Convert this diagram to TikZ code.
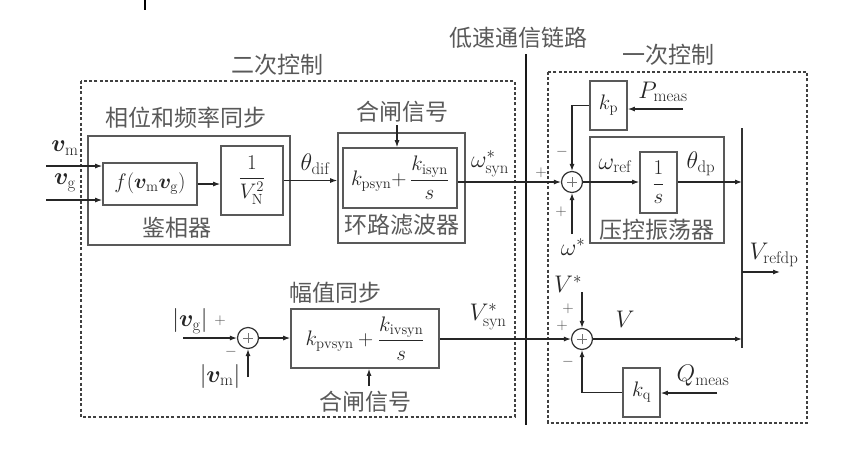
\RequirePackage{fix-cm}
\documentclass[tikz,border=0pt]{standalone}
\usepackage{amsmath,bm}
\usepackage{fontspec}
\newfontfamily\cjk{Noto Sans CJK SC}
\usetikzlibrary{arrows.meta,calc}
\begin{document}
\begin{tikzpicture}[x=1pt,y=-1pt,
  font=\fontsize{21pt}{25pt}\selectfont,
  ln/.style={line width=1.1pt, draw=black!85},
  arr/.style={ln,-{Latex[length=7pt,width=5pt]}},
  blk/.style={draw=black!65, line width=1.7pt, inner sep=0pt, text=black!85},
  frame/.style={draw=black!75, line width=1.2pt, dash pattern=on 3pt off 2.2pt},
  sumc/.style={circle, draw=black!80, line width=1.2pt, minimum size=21pt, inner sep=0pt,
    path picture={\draw[black!55,line width=0.8pt]
      ([xshift=-5pt]path picture bounding box.center) -- ([xshift=5pt]path picture bounding box.center)
      ([yshift=-5pt]path picture bounding box.center) -- ([yshift=5pt]path picture bounding box.center);}},
  lab/.style={inner sep=0pt, text=black!85, font=\fontsize{24pt}{28pt}\selectfont},
  sgn/.style={inner sep=0pt, text=black!70, font=\fontsize{15pt}{17pt}\selectfont},
  zhl/.style={inner sep=0pt, text=black!65, font=\fontsize{23pt}{27pt}\cjk},
]
\useasboundingbox (0,0) rectangle (856,448);
\fill[white] (0,0) rectangle (856,448);
\draw[line width=2pt] (145,0) -- (145,10);

% frames
\draw[frame] (81,81) rectangle (515,417);
\node[zhl] (lbl2) at (277,65) {二次控制};
\draw[frame] (548,72) rectangle (807,423);
\node[zhl] (lbl1) at (668,55) {一次控制};
\coordinate (linkT) at (526,54);
\coordinate (linkB) at (526,425);
\draw[line width=2.6pt, black!90] (linkT) -- (linkB);
\node[zhl] (lbllink) at (518,38) {低速通信链路};

% phase and frequency sync
\node[blk, minimum width=202pt, minimum height=109pt] (PS) at (189,190.5) {};
\node[zhl] (lblps) at (186,118) {相位和频率同步};
\node[blk, minimum width=94pt, minimum height=42pt] (F) at (150,184) {$f(\bm{v}_{\mathrm{m}}\bm{v}_{\mathrm{g}})$};
\node[blk, minimum width=62pt, minimum height=69pt] (INV) at (252,180.5) {$\dfrac{1}{V_{\mathrm{N}}^{2}}$};
\node[zhl] (lblpd) at (177,228) {鉴相器};
\coordinate (vmin) at (46,166);
\coordinate (vgin) at (46,200);
\draw[arr] (vmin) -- (vmin -| F.west);
\draw[arr] (vgin) -- (vgin -| F.west);
\node[lab] (vmlab) at (65,148) {$\bm{v}_{\mathrm{m}}$};
\node[lab] (vglab) at (65,183) {$\bm{v}_{\mathrm{g}}$};
\draw[arr] (F.east) -- (F.east -| INV.west);

% loop filter
\node[blk, minimum width=127pt, minimum height=110pt] (LFO) at (401.5,188) {};
\node[blk, minimum width=114pt, minimum height=60pt] (LFI) at (400,178) {$k_{\mathrm{psyn}}{+}\,\dfrac{k_{\mathrm{isyn}}}{s}$};
\node[zhl] (lbllf) at (402,225) {环路滤波器};
\node[zhl] (hz1) at (402,112) {合闸信号};
\draw[arr] (397,125) -- (397,0 |- LFI.north);
\draw[arr] (INV.east) -- (INV.east -| LFO.west);
\node[lab] (thdif) at (315,164) {$\theta_{\mathrm{dif}}$};

% primary: frequency
\node[sumc] (S1) at (572,182) {};
\draw[ln] (LFI.east |- S1) -- (linkT |- S1);
\draw[arr] (linkT |- S1) -- (S1.west);
\node[lab] (wsyn) at (490,164) {$\omega^{*}_{\mathrm{syn}}$};
\node[sgn] (p1) at (541,173) {$+$};
\node[blk, minimum width=37pt, minimum height=49pt] (KP) at (608.5,105.5) {$k_{\mathrm{p}}$};
\node[lab] (pmeas) at (663,92) {$P_{\mathrm{meas}}$};
\coordinate (pin) at (683,109);
\draw[arr] (pin) -- (pin -| KP.east);
\draw[arr] (KP.west) -| (S1.north);
\node[sgn] (m1) at (562,152) {$-$};
\node[blk, minimum width=134pt, minimum height=106pt] (VCO) at (657,190) {};
\node[blk, minimum width=37pt, minimum height=61pt] (INT) at (658.5,182.5) {$\dfrac{1}{s}$};
\node[zhl] (lblvco) at (657,230) {压控振荡器};
\draw[arr] (S1.east) -- (S1 -| INT.west);
\coordinate (barT) at (742,128);
\coordinate (barB) at (742,348);
\draw[line width=1.6pt, black!80] (barT) -- (barB);
\draw[arr] (S1 -| INT.east) -- (S1 -| barT);
\node[lab] (wref) at (615,166) {$\omega_{\mathrm{ref}}$};
\node[lab] (thdp) at (701,164) {$\theta_{\mathrm{dp}}$};
\node[sgn] (p2) at (561,212) {$+$};
\node[lab] (wst) at (573,247) {$\omega^{*}$};
\draw[arr] (S1 |- 0,234) -- (S1.south);
\node[lab] (vref) at (774,255) {$V_{\mathrm{refdp}}$};
\coordinate (vout) at (780,272);
\draw[arr] (barT |- vout) -- (vout);

% primary: voltage
\node[sumc] (S2) at (582,339) {};
\node[lab] (vst) at (568,284) {$V^{*}$};
\draw[arr] (S2 |- 0,292) -- (S2.north);
\node[sgn] (p3) at (568,309) {$+$};
\node[sgn] (p4) at (562,326) {$+$};
\node[sgn] (m2) at (568,362) {$-$};
\node[lab] (vlab) at (625,319) {$V$};
\draw[arr] (S2.east) -- (S2 -| barT);
\node[blk, minimum width=37pt, minimum height=49pt] (KQ) at (641.5,392.5) {$k_{\mathrm{q}}$};
\node[lab] (qmeas) at (703,376) {$Q_{\mathrm{meas}}$};
\coordinate (qin) at (717,393);
\draw[arr] (qin) -- (qin -| KQ.east);
\draw[arr] (KQ.west) -| (S2.south);

% amplitude sync
\node[blk, minimum width=148pt, minimum height=59pt] (AMP) at (365,338.5) {$k_{\mathrm{pvsyn}}+\dfrac{k_{\mathrm{ivsyn}}}{s}$};
\node[zhl] (lblamp) at (335,293) {幅值同步};
\node[zhl] (hz2) at (365,402) {合闸信号};
\draw[arr] (369,386) -- (369,0 |- AMP.south);
\node[sumc] (S3) at (248,338) {};
\coordinate (vgabs) at (183,338);
\draw[arr] (vgabs) -- (S3.west);
\node[lab] (vglab2) at (190,321) {$|\bm{v}_{\mathrm{g}}|$};
\node[sgn] (p5) at (220,321) {$+$};
\node[sgn] (m3) at (231,352) {$-$};
\node[lab] (vmlab2) at (220,376) {$|\bm{v}_{\mathrm{m}}|$};
\draw[arr] (S3 |- 0,377) -- (S3.south);
\draw[arr] (S3.east) -- (S3 -| AMP.west);
\draw[arr] (AMP.east |- S2) -- (S2.west);
\node[lab] (vsyn) at (488,317) {$V^{*}_{\mathrm{syn}}$};
\end{tikzpicture}
\end{document}
